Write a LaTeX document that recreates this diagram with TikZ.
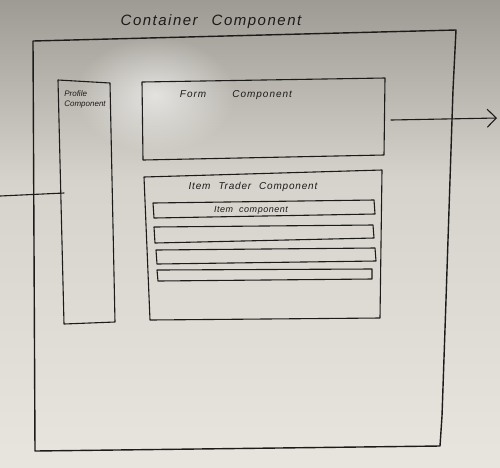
\documentclass[tikz,border=0pt]{standalone}
\usepackage{fontspec}
\setmainfont{Liberation Sans}
\usetikzlibrary{arrows.meta,fadings}
\definecolor{boardtop}{RGB}{158,155,148}
\definecolor{boardmid}{RGB}{214,211,204}
\definecolor{boardlow}{RGB}{232,229,223}
\definecolor{marker}{RGB}{28,27,26}
\tikzfading[name=glow, inner color=transparent!0, outer color=transparent!100]
\tikzset{
  pen/.style={draw=marker, line width=1.4pt, line join=round, line cap=round},
  thinpen/.style={draw=marker, line width=1.1pt, line join=round, line cap=round},
  hand/.style={text=marker, inner sep=0pt, font=\itshape},
}
\begin{document}
\begin{tikzpicture}[x=1pt, y=-1pt]
  % whiteboard surface
  \useasboundingbox (0,0) rectangle (500,467);
  \shade[top color=boardtop, bottom color=boardmid] (0,0) rectangle (500,180);
  \shade[top color=boardmid, bottom color=boardlow] (0,180) rectangle (500,467);
  % glare on the board
  \fill[white, opacity=0.6, path fading=glow] (155,95) ellipse (80 and 58);

  % container outline
  \coordinate (ctl) at (33,41);
  \coordinate (ctr) at (456,30);
  \coordinate (cbr) at (440,446);
  \coordinate (cbl) at (35,451);
  \draw[pen] (ctl) -- (ctr) -- (453,90) -- (446,300) -- (442,416) -- (cbr) -- (cbl) -- cycle;
  \node[hand, font=\itshape\fontsize{15}{15}\selectfont] (title) at (211,22)
    {\addfontfeatures{LetterSpace=10}Container\hspace{14pt}Component};

  % profile column
  \coordinate (ptl) at (58,80);
  \coordinate (ptr) at (110,83);
  \coordinate (pbr) at (115,322);
  \coordinate (pbl) at (64,324);
  \draw[thinpen] (ptl) -- (ptr) -- (pbr) -- (pbl) -- cycle;
  \node[hand, font=\itshape\fontsize{8}{10}\selectfont, align=left] (ptext) at (85,99)
    {Profile\\Component};

  % form panel
  \coordinate (ftl) at (142,82);
  \coordinate (ftr) at (385,78);
  \coordinate (fbr) at (384,155);
  \coordinate (fbl) at (143,160);
  \draw[thinpen] (ftl) -- (ftr) -- (fbr) -- (fbl) -- cycle;
  \node[hand, font=\itshape\fontsize{10}{10}\selectfont] (ftext) at (236,95)
    {\addfontfeatures{LetterSpace=10}Form\hspace{26pt}Component};

  % item trader panel
  \coordinate (ttl) at (144,177);
  \coordinate (ttr) at (382,170);
  \coordinate (tbr) at (380,318);
  \coordinate (tbl) at (150,320);
  \draw[thinpen] (ttl) -- (ttr) -- (tbr) -- (tbl) -- cycle;
  \node[hand, font=\itshape\fontsize{10}{10}\selectfont] (ttext) at (253,187)
    {\addfontfeatures{LetterSpace=8}Item\hspace{8pt}Trader\hspace{8pt}Component};

  % item rows
  \draw[thinpen] (153,203) -- (374,200) -- (375,214) -- (154,218) -- cycle;
  \node[hand, font=\itshape\fontsize{9}{9}\selectfont] (itext) at (251,210)
    {\addfontfeatures{LetterSpace=6}Item\hspace{6pt}component};
  \draw[thinpen] (154,227) -- (373,225) -- (374,238) -- (155,243) -- cycle;
  \draw[thinpen] (156,250) -- (375,248) -- (376,261) -- (157,264) -- cycle;
  \draw[thinpen] (157,270) -- (372,269) -- (372,279) -- (158,281) -- cycle;

  % incoming line into the profile column
  \coordinate (inl) at (0,196);
  \coordinate (inr) at (64,193);
  \draw[thinpen] (inl) -- (inr);

  % outgoing arrow from the form panel
  \coordinate (outs) at (391,120);
  \coordinate (oute) at (497,118);
  \draw[thinpen, -{Straight Barb[length=9pt, width=18pt, line width=1.1pt]}] (outs) -- (oute);
\end{tikzpicture}
\end{document}
